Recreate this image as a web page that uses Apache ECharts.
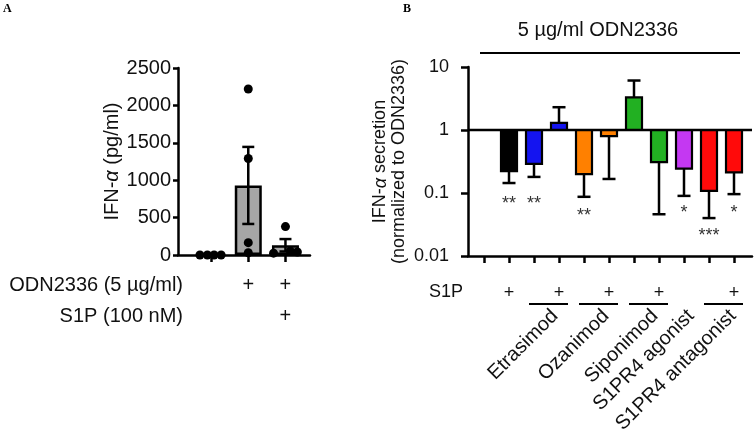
<!DOCTYPE html>
<html>
<head>
<meta charset="utf-8">
<script src="https://cdn.jsdelivr.net/npm/echarts@6/dist/echarts.min.js"></script>
<style>
html,body{margin:0;padding:0;background:#fff;}
#chart{width:754px;height:438px;}
</style>
</head>
<body>
<div id="chart"></div>
<script>
// ---- panel A: IFN-a (pg/ml) ----
var groupsA = [0, 1, 2];
var meansA = [0, 930, 130];
var semA = [0, 515, 83];
var odnRowA = [1, 2];
var s1pRowA = [2];
var pointGroupA = [0, 0, 0, 0, 1, 1, 1, 1, 2, 2, 2, 2];
var pointValA = [0, 0, 0, 0, 2220, 1290, 165, 30, 380, 25, 55, 40];
var jitterA = [-0.3, -0.1, 0.08, 0.27, 0, 0, 0, 0, 0, -0.32, 0.13, 0.32];

// ---- panel B: normalized secretion (log) ----
var barPosB = [1, 2, 3, 4, 5, 6, 7, 8, 9, 10];
var meansB = [0.223, 0.29, 1.3, 0.20, 0.80, 3.3, 0.31, 0.243, 0.108, 0.213];
var errEndB = [0.144, 0.18, 2.3, 0.087, 0.167, 6.1, 0.046, 0.09, 0.040, 0.096];
var starTextB = ['**', '**', '**', '*', '***', '*'];
var starPosB = [1, 2, 4, 8, 9, 10];
var starLevelB = [0.0774, 0.0774, 0.0499, 0.0556, 0.024, 0.0556];
var s1pPosB = [1, 3, 5, 7, 10];
var pairsB = [[2, 3], [4, 5], [6, 7], [9, 10]];
var drugsB = ['Etrasimod', 'Ozanimod', 'Siponimod', 'S1PR4 agonist', 'S1PR4 antagonist'];
var drugPosB = [3, 5, 7, 8, 10];

var colorsB = ['#000000', '#1414f0', '#1414f0', '#ff8000', '#ff8000', '#22b022', '#22b022', '#c438f2', '#ff0a0a', '#ff0a0a'];
var drugShiftB = [-4, -3, -4, 7, -1];

var F = '"Liberation Sans", Arial, sans-serif';
var AXMIN = -0.89, AXMAX = 2.66;
var BXMIN = -0.64, BXMAX = 10.72;
var black = {color: '#000', width: 2.5};

var chart = echarts.init(document.getElementById('chart'));

function errA(params, api) {
    var x = api.value(0);
    var lo = api.coord([x, api.value(1)]);
    var hi = api.coord([x, api.value(2)]);
    var st = {stroke: '#000', lineWidth: 2.5};
    return {type: 'group', children: [
        {type: 'line', shape: {x1: lo[0], y1: lo[1], x2: hi[0], y2: hi[1]}, style: st},
        {type: 'line', shape: {x1: hi[0] - 6, y1: hi[1], x2: hi[0] + 6, y2: hi[1]}, style: st},
        {type: 'line', shape: {x1: lo[0] - 6, y1: lo[1], x2: lo[0] + 6, y2: lo[1]}, style: st}
    ]};
}

function barB(params, api) {
    var k = api.value(0);
    var base = api.coord([k, 1]);
    var top = api.coord([k, api.value(1)]);
    var end = api.coord([k, api.value(2)]);
    var st = {stroke: '#000', lineWidth: 2.5};
    var y0 = Math.min(base[1], top[1]);
    return {type: 'group', children: [
        {type: 'line', shape: {x1: top[0], y1: top[1], x2: end[0], y2: end[1]}, style: st},
        {type: 'line', shape: {x1: end[0] - 6.5, y1: end[1], x2: end[0] + 6.5, y2: end[1]}, style: st},
        {type: 'rect', shape: {x: base[0] - 8, y: y0, width: 16, height: Math.abs(top[1] - base[1])},
            style: {fill: colorsB[params.dataIndex], stroke: '#000', lineWidth: 2.2}}
    ]};
}

function starB(params, api) {
    var p = api.coord([api.value(0), api.value(1)]);
    return {type: 'text', x: p[0], y: p[1] + 4, style: {
        text: starTextB[params.dataIndex], align: 'center', verticalAlign: 'middle',
        fontSize: 18, fontFamily: F, fill: '#333'}};
}

function pairLineB(params, api) {
    var a = api.coord([api.value(0), 0.01]);
    var b = api.coord([api.value(1), 0.01]);
    return {type: 'line', shape: {x1: a[0] - 5, y1: a[1] + 48, x2: b[0] + 9, y2: b[1] + 48},
        style: {stroke: '#000', lineWidth: 2}};
}

function drugLabelB(params, api) {
    var p = api.coord([api.value(0), 0.01]);
    return {type: 'text', x: p[0] + drugShiftB[params.dataIndex], y: p[1] + 57, rotation: Math.PI / 4,
        style: {text: drugsB[params.dataIndex], align: 'right', verticalAlign: 'middle',
            fontSize: 20, fontFamily: F, fill: '#111'}};
}

var option = {
    animation: false,
    backgroundColor: '#fff',
    textStyle: {fontFamily: F},
    grid: [
        {left: 178, top: 68, width: 132, height: 187},
        {left: 468, top: 67, width: 284, height: 189}
    ],
    xAxis: [
        {gridIndex: 0, type: 'value', min: AXMIN, max: AXMAX, position: 'bottom',
            axisLine: {onZero: false, lineStyle: black},
            axisTick: {customValues: groupsA, length: 7, lineStyle: black},
            axisLabel: {customValues: odnRowA, formatter: function () { return '+'; },
                margin: 20, fontSize: 20, color: '#111', fontFamily: F},
            splitLine: {show: false}},
        {gridIndex: 0, type: 'value', min: AXMIN, max: AXMAX, position: 'bottom', offset: 0,
            axisLine: {show: false}, axisTick: {show: false},
            axisLabel: {customValues: s1pRowA, formatter: function () { return '+'; },
                margin: 51, fontSize: 20, color: '#111', fontFamily: F},
            splitLine: {show: false}},
        {gridIndex: 1, type: 'value', min: BXMIN, max: BXMAX, position: 'bottom',
            axisLine: {onZero: false, lineStyle: black},
            axisTick: {customValues: [0].concat(barPosB), length: 7, lineStyle: black},
            axisLabel: {customValues: s1pPosB, formatter: function () { return '+'; },
                margin: 28, fontSize: 18, color: '#111', fontFamily: F},
            splitLine: {show: false}}
    ],
    yAxis: [
        {gridIndex: 0, type: 'value', min: 0, max: 2500, interval: 500,
            axisLine: {show: true, onZero: false, lineStyle: black},
            axisTick: {show: true, length: 5, lineStyle: black},
            axisLabel: {fontSize: 20, color: '#111', margin: 7, fontFamily: F,
                formatter: function (v) { return String(v); }},
            splitLine: {show: false},
            name: '{n|IFN-}{a|α}{n| (pg/ml)}', nameLocation: 'middle', nameGap: 52,
            nameTextStyle: {rich: {
                n: {fontSize: 20, color: '#111', fontFamily: F},
                a: {fontSize: 20, color: '#111', fontFamily: F, fontStyle: 'italic'}}}},
        {gridIndex: 1, type: 'log', logBase: 10, min: 0.01, max: 10,
            axisLine: {show: true, onZero: false, lineStyle: black},
            axisTick: {show: true, length: 7, lineStyle: black},
            axisLabel: {fontSize: 18, color: '#111', margin: 19, fontFamily: F},
            splitLine: {show: false},
            name: '{n|IFN-}{a|α}{n| secretion}\n{n|(normalized to ODN2336)}',
            nameLocation: 'middle', nameGap: 59,
            nameTextStyle: {lineHeight: 19, rich: {
                n: {fontSize: 18, color: '#111', fontFamily: F, lineHeight: 19},
                a: {fontSize: 18, color: '#111', fontFamily: F, fontStyle: 'italic', lineHeight: 19}}}}
    ],
    series: [
        {type: 'bar', xAxisIndex: 0, yAxisIndex: 0, barWidth: 27, z: 2,
            data: groupsA.map(function (g, i) { return [g, meansA[i]]; }),
            itemStyle: {color: '#a6a6a6', borderColor: '#000', borderWidth: 2.5}},
        {type: 'custom', xAxisIndex: 0, yAxisIndex: 0, z: 3, renderItem: errA,
            data: groupsA.filter(function (g, i) { return semA[i] > 0; }).map(function (g) {
                return [g, meansA[g] - semA[g], meansA[g] + semA[g]]; })},
        {type: 'scatter', xAxisIndex: 0, yAxisIndex: 0, z: 4, symbolSize: 9,
            itemStyle: {color: '#000', opacity: 1},
            data: pointValA.map(function (v, i) { return [pointGroupA[i] + jitterA[i], v]; })},

        {type: 'custom', xAxisIndex: 2, yAxisIndex: 1, z: 2, renderItem: barB,
            data: barPosB.map(function (k, i) { return [k, meansB[i], errEndB[i]]; })},
        {type: 'line', xAxisIndex: 2, yAxisIndex: 1, z: 5, symbol: 'none',
            lineStyle: {color: '#000', width: 2.5},
            data: [[BXMIN, 1], [BXMAX, 1]]},
        {type: 'custom', xAxisIndex: 2, yAxisIndex: 1, z: 5, clip: false, renderItem: starB,
            data: starPosB.map(function (k, i) { return [k, starLevelB[i]]; })},
        {type: 'custom', xAxisIndex: 2, yAxisIndex: 1, z: 5, clip: false, renderItem: pairLineB,
            data: pairsB},
        {type: 'custom', xAxisIndex: 2, yAxisIndex: 1, z: 5, clip: false, renderItem: drugLabelB,
            data: drugPosB.map(function (k) { return [k]; })}
    ],
    graphic: [
        {type: 'text', left: 3, top: 3, style: {text: 'A', font: 'bold 12px "Liberation Serif", serif', fill: '#000'}},
        {type: 'text', left: 403, top: 3, style: {text: 'B', font: 'bold 12px "Liberation Serif", serif', fill: '#000'}},
        {type: 'text', x: 183, y: 285, style: {text: 'ODN2336 (5 µg/ml)', align: 'right', verticalAlign: 'middle',
            fontSize: 20, fontFamily: F, fill: '#111'}},
        {type: 'text', x: 183, y: 316, style: {text: 'S1P (100 nM)', align: 'right', verticalAlign: 'middle',
            fontSize: 20, fontFamily: F, fill: '#111'}},
        {type: 'text', x: 463, y: 292, style: {text: 'S1P', align: 'right', verticalAlign: 'middle',
            fontSize: 18, fontFamily: F, fill: '#111'}},
        {type: 'text', x: 598, y: 30, style: {text: '5 µg/ml ODN2336', align: 'center', verticalAlign: 'middle',
            fontSize: 20, fontFamily: F, fill: '#111'}},
        {type: 'line', shape: {x1: 480, y1: 53, x2: 740, y2: 53}, style: {stroke: '#000', lineWidth: 2}}
    ]
};

chart.setOption(option);
</script>
</body>
</html>
